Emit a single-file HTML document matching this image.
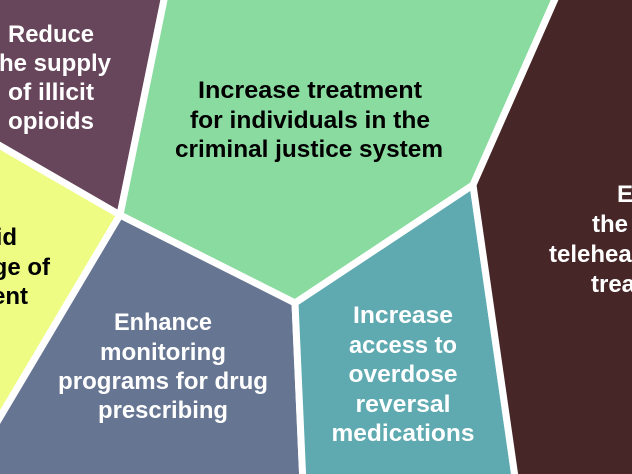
<!DOCTYPE html>
<html><head><meta charset="utf-8"><style>
html,body{margin:0;padding:0;background:#fff;}
svg{display:block;}
text{font-family:"Liberation Sans",sans-serif;font-weight:bold;font-size:24px;}
</style></head><body>
<svg width="632" height="474" viewBox="0 0 632 474" xmlns="http://www.w3.org/2000/svg">
<g stroke="#fff" stroke-width="7" stroke-linejoin="round">
<polygon points="-10,-10 166,-10 120,215 -10,140" fill="#67455a"/>
<polygon points="166,-10 559,-10 473,185 295,303 120,215" fill="#8adba0"/>
<polygon points="-10,140 120,215 -10,434" fill="#eefc84"/>
<polygon points="120,215 295,303 303,484 -10,484 -10,434" fill="#667592"/>
<polygon points="295,303 473,185 516,484 303,484" fill="#5eaab0"/>
<polygon points="559,-10 642,-10 642,484 516,484 473,185" fill="#462627"/>
</g>
<g fill="#fff" text-anchor="middle">
<text x="51" y="42" textLength="86" lengthAdjust="spacingAndGlyphs">Reduce</text>
<text x="51" y="71">the supply</text>
<text x="51" y="100" textLength="86" lengthAdjust="spacingAndGlyphs">of illicit</text>
<text x="51" y="129" textLength="86" lengthAdjust="spacingAndGlyphs">opioids</text>
</g>
<g fill="#000" text-anchor="middle">
<text x="310" y="98" textLength="224" lengthAdjust="spacingAndGlyphs">Increase treatment</text>
<text x="310" y="128" textLength="240" lengthAdjust="spacingAndGlyphs">for individuals in the</text>
<text x="309" y="157" textLength="268" lengthAdjust="spacingAndGlyphs">criminal justice system</text>
</g>
<g fill="#000" text-anchor="end">
<text x="17" y="245">Avoid</text>
<text x="50" y="275">shortage of</text>
<text x="28" y="304">treatment</text>
</g>
<g fill="#fff" text-anchor="middle">
<text x="163" y="330" textLength="98" lengthAdjust="spacingAndGlyphs">Enhance</text>
<text x="163" y="360" textLength="126" lengthAdjust="spacingAndGlyphs">monitoring</text>
<text x="163" y="389" textLength="210" lengthAdjust="spacingAndGlyphs">programs for drug</text>
<text x="163" y="418" textLength="130" lengthAdjust="spacingAndGlyphs">prescribing</text>
</g>
<g fill="#fff" text-anchor="middle">
<text x="403" y="323" textLength="100" lengthAdjust="spacingAndGlyphs">Increase</text>
<text x="403" y="353" textLength="108" lengthAdjust="spacingAndGlyphs">access to</text>
<text x="403" y="382" textLength="109" lengthAdjust="spacingAndGlyphs">overdose</text>
<text x="403" y="412" textLength="95" lengthAdjust="spacingAndGlyphs">reversal</text>
<text x="403" y="441" textLength="143" lengthAdjust="spacingAndGlyphs">medications</text>
</g>
<g fill="#fff" text-anchor="start">
<text x="617" y="202">Expand</text>
<text x="592" y="232">the use of</text>
<text x="549" y="262">telehealth for</text>
<text x="591" y="292">treatment</text>
</g>
</svg>
</body></html>
